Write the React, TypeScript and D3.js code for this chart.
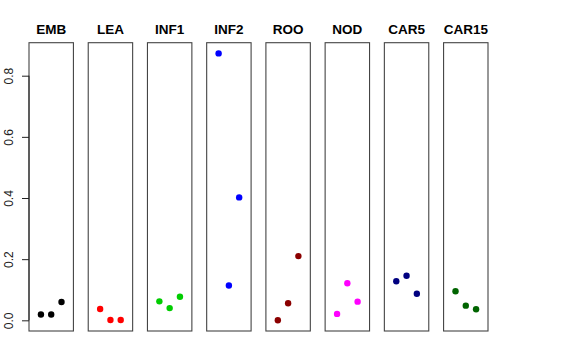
import React, { useEffect, useRef } from "react";
import * as d3 from "d3";

// tissue panels, three replicates each
const tissues = ["EMB", "LEA", "INF1", "INF2", "ROO", "NOD", "CAR5", "CAR15"];
const colors = ["#000000", "#FF0000", "#00CD00", "#0000FF", "#8B0000", "#FF00FF", "#000080", "#006400"];
const values = [
  [0.019, 0.019, 0.06],
  [0.037, 0.001, 0.001],
  [0.062, 0.04, 0.077],
  [0.873, 0.114, 0.402],
  [0.0, 0.056, 0.21],
  [0.021, 0.121, 0.061],
  [0.128, 0.146, 0.087],
  [0.095, 0.048, 0.036],
];
const yTicks = [0, 0.2, 0.4, 0.6, 0.8];

function App() {
  const ref = useRef<SVGSVGElement>(null);

  useEffect(() => {
    const svg = d3.select(ref.current);
    svg.selectAll("*").remove();

    const top = 42.7, bottom = 331;
    // R style 4% padding round the data range
    const all = values.flat();
    const lo = d3.min(all)!, hi = d3.max(all)!;
    const pad = (hi - lo) * 0.04;
    const y = d3.scaleLinear().domain([lo - pad, hi + pad]).range([bottom, top]);

    const band = d3.scaleBand().domain(tissues).range([29, 488]).paddingInner(0.25);

    tissues.forEach((t, i) => {
      const left = band(t)!;
      const w = band.bandwidth();
      const x = d3.scaleLinear().domain([-0.16, 4.16]).range([left, left + w]);
      const g = svg.append("g");

      g.append("rect")
        .attr("x", left)
        .attr("y", top)
        .attr("width", w)
        .attr("height", bottom - top)
        .attr("fill", "none")
        .attr("stroke", "#444")
        .attr("stroke-width", 1.1);

      g.append("text")
        .attr("x", left + w / 2)
        .attr("y", 34)
        .attr("text-anchor", "middle")
        .attr("font-family", "Liberation Sans, Arial, sans-serif")
        .attr("font-weight", "bold")
        .attr("font-size", 13.5)
        .text(t);

      g.selectAll("circle")
        .data(values[i])
        .join("circle")
        .attr("cx", (d, j) => x(j + 1))
        .attr("cy", d => y(d))
        .attr("r", 3.2)
        .attr("fill", colors[i]);
    });

    // y axis on the first panel only
    const axis = svg.append("g")
      .attr("transform", `translate(${band(tissues[0])},0)`)
      .call(d3.axisLeft(y).tickValues(yTicks).tickFormat(d3.format(".1f")).tickSize(7).tickSizeOuter(0));
    axis.select(".domain").attr("d", `M0,${y(0)}V${y(0.8)}`).attr("stroke", "#222");
    axis.selectAll(".tick line").attr("stroke", "#222");
    axis.selectAll(".tick text")
      .attr("font-family", "Liberation Sans, Arial, sans-serif")
      .attr("font-size", 12)
      .attr("fill", "#222")
      .attr("transform", "rotate(-90)")
      .attr("text-anchor", "middle")
      .attr("x", 0)
      .attr("y", -20)
      .attr("dy", "0.35em");
  }, []);

  return (
    <svg
      ref={ref}
      width={576}
      height={360}
      style={{ position: "absolute", left: 0, top: 0, background: "#fff" }}
    />
  );
}

export default App;
